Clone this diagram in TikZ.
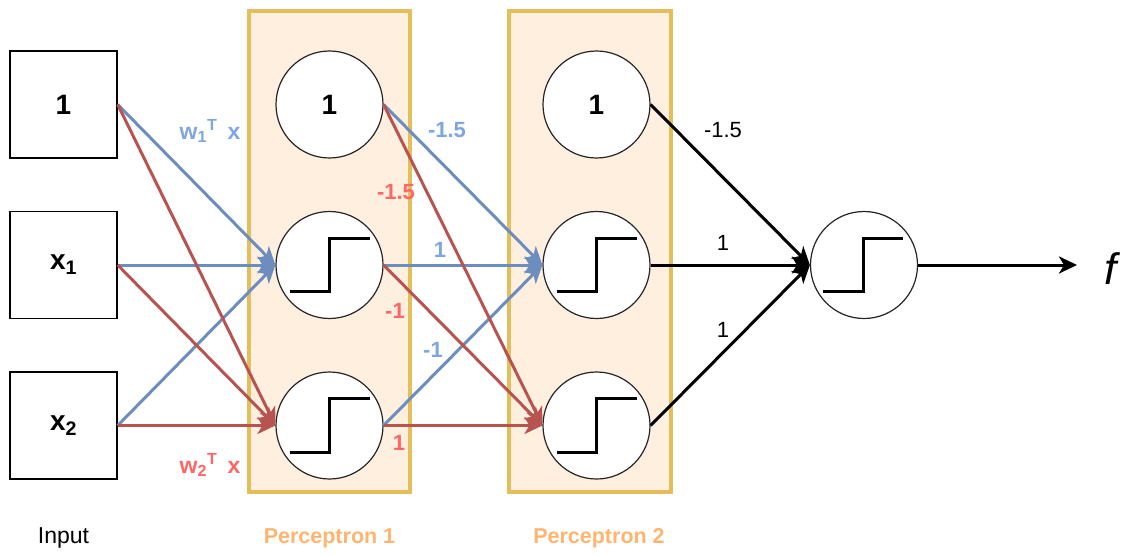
\documentclass[tikz,border=0pt]{standalone}
\usepackage{fontspec}
\setmainfont{Liberation Sans}
\usetikzlibrary{arrows.meta}
\definecolor{lineblue}{HTML}{6C8EBF}
\definecolor{linered}{HTML}{B85450}
\definecolor{txtblue}{HTML}{7EA6E0}
\definecolor{txtred}{HTML}{FF6666}
\definecolor{txtorange}{HTML}{FFB570}
\definecolor{layerfill}{HTML}{FFEFDF}
\definecolor{layerdraw}{HTML}{E3BE5A}
\tikzset{
  inbox/.style={draw=black, line width=1.4pt, fill=white, minimum width=107pt, minimum height=107pt, inner sep=0pt, font=\fontsize{28}{32}\selectfont\bfseries},
  neuron/.style={circle, draw=black!85, line width=1.2pt, fill=white, minimum size=107pt, inner sep=0pt, font=\fontsize{28}{32}\selectfont\bfseries},
  layerbox/.style={draw=layerdraw, fill=layerfill, line width=4pt},
  stepline/.style={line width=3pt, black},
  conn/.style={line width=3pt, -{Stealth[length=18pt, width=17pt, inset=5pt]}},
  bconn/.style={conn, lineblue},
  rconn/.style={conn, linered},
  kconn/.style={conn, black},
  wlab/.style={font=\fontsize{22}{26}\selectfont, inner sep=0pt},
  cwlab/.style={font=\fontsize{22}{26}\selectfont\bfseries, inner sep=0pt},
  blab/.style={font=\fontsize{23}{27}\selectfont\bfseries, inner sep=0pt},
  caption/.style={font=\fontsize{23}{27}\selectfont, inner sep=0pt},
  ptitle/.style={font=\fontsize{21.5}{26}\selectfont\bfseries, text=txtorange, inner sep=0pt},
}
\begin{document}
\begin{tikzpicture}[x=1pt,y=-1pt]
\useasboundingbox (0,0) rectangle (1131,556);
% layer boxes
\node[layerbox, minimum width=161pt, minimum height=481pt, inner sep=0pt] (p1) at (329.5,251.5) {};
\node[layerbox, minimum width=162pt, minimum height=481pt, inner sep=0pt] (p2) at (590,251.5) {};
% inputs
\node[inbox] (i0) at (63.5,104.5) {1};
\node[inbox] (i1) at (63.5,265) {x\textsubscript{1}};
\node[inbox] (i2) at (63.5,425.5) {x\textsubscript{2}};
% neurons
\node[neuron] (a0) at (329.5,104.5) {1};
\node[neuron] (a1) at (329.5,265) {};
\node[neuron] (a2) at (329.5,425.5) {};
\node[neuron] (b0) at (596.5,104.5) {1};
\node[neuron] (b1) at (596.5,265) {};
\node[neuron] (b2) at (596.5,425.5) {};
\node[neuron] (o) at (864,265) {};
% step glyphs
\foreach \n in {a1,a2,b1,b2}{
  \draw[stepline] ([shift={(-40,26.5)}]\n.center) -- ++(40,0) -- ++(0,-53.5) -- ++(40,0);
}
\draw[stepline] ([shift={(-41,26)}]o.center) -- ++(40,0) -- ++(0,-53) -- ++(40,0);
% input -> perceptron 1
\draw[bconn] (i0.east) -- (a1.west);
\draw[bconn] (i1.east) -- (a1.west);
\draw[bconn] (i2.east) -- (a1.west);
\draw[rconn] (i0.east) -- (a2.west);
\draw[rconn] (i1.east) -- (a2.west);
\draw[rconn] (i2.east) -- (a2.west);
% perceptron 1 -> perceptron 2
\draw[bconn] (a0.east) -- (b1.west);
\draw[bconn] (a1.east) -- (b1.west);
\draw[bconn] (a2.east) -- (b1.west);
\draw[rconn] (a0.east) -- (b2.west);
\draw[rconn] (a1.east) -- (b2.west);
\draw[rconn] (a2.east) -- (b2.west);
% perceptron 2 -> output
\draw[kconn] (b0.east) -- (o.west);
\draw[kconn] (b1.east) -- (o.west);
\draw[kconn] (b2.east) -- (o.west);
\coordinate (fend) at (1077,265);
\draw[kconn] (o.east) -- (fend);
\node[font=\fontsize{44}{50}\selectfont\itshape, inner sep=0pt] (f) at (1111,269) {f};
% labels
\node[blab, text=txtblue] (lw1) at (210,131) {w\textsubscript{1}\textsuperscript{T}\, x};
\node[blab, text=txtred] (lw2) at (210,465) {w\textsubscript{2}\textsuperscript{T}\, x};
\node[cwlab, text=txtblue] (l1) at (447,130) {-1.5};
\node[cwlab, text=txtred] (l2) at (396,192) {-1.5};
\node[cwlab, text=txtblue] (l3) at (440,250) {1};
\node[cwlab, text=txtred] (l4) at (395,311) {-1};
\node[cwlab, text=txtblue] (l5) at (433,350) {-1};
\node[cwlab, text=txtred] (l6) at (399,443) {1};
\node[wlab] (l7) at (723,130) {-1.5};
\node[wlab] (l8) at (723,243) {1};
\node[wlab] (l9) at (723,330) {1};
% captions
\node[caption] (cin) at (63.5,538) {Input};
\node[ptitle] (cp1) at (329.5,538) {Perceptron 1};
\node[ptitle] (cp2) at (599,538) {Perceptron 2};
\end{tikzpicture}
\end{document}
